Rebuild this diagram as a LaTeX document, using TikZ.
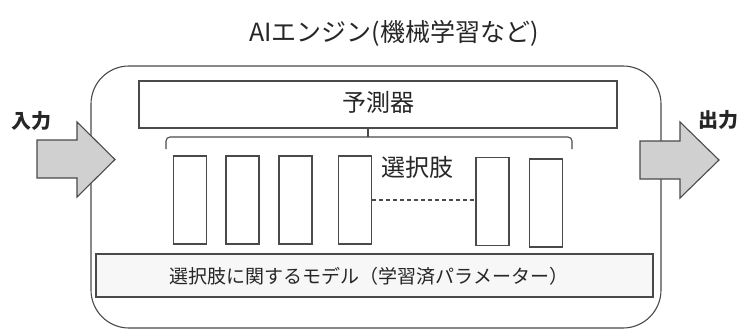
\documentclass[tikz,border=0pt]{standalone}
\usepackage{fontspec}
\setmainfont{Noto Sans CJK JP}
\usetikzlibrary{positioning}
\definecolor{lc}{HTML}{4A4A4A}
\definecolor{arrfill}{HTML}{D0D0D0}
\definecolor{modfill}{HTML}{F7F7F7}
\tikzset{
  box/.style={draw=lc, line width=1.1pt, inner sep=0pt},
  optbox/.style={box, fill=white, minimum width=33pt, minimum height=88pt},
  bigarrow/.style={draw=lc, line width=1.1pt, fill=arrfill, line join=miter},
  lbl/.style={inner sep=0pt, text=black!85}
}
\begin{document}
\begin{tikzpicture}[x=1pt,y=-1pt]
\useasboundingbox (0,0) rectangle (741,329);
% title
\node[lbl, font=\fontsize{25}{25}\selectfont] (title) at (394,33) {AIエンジン(機械学習など)};
% outer rounded box
\node[box, rounded corners=38pt, minimum width=570pt, minimum height=262pt] (outer) at (376,197) {};
% predictor
\node[box, minimum width=478pt, minimum height=47pt] (pred) at (378,104.5) {};
\node[lbl, font=\fontsize{24}{24}\selectfont] (predt) at (378,102) {予測器};
% options
\node[optbox] (o1) at (190,200) {};
\node[optbox] (o2) at (242.5,200) {};
\node[optbox] (o3) at (295.5,200) {};
\node[optbox] (o4) at (355,200) {};
\node[optbox] (o5) at (492.5,201.5) {};
\node[optbox] (o6) at (546,203) {};
\draw[lc, line width=1.2pt, dash pattern=on 4pt off 3pt] (o4.east) -- (o4.east -| o5.west);
\node[lbl, font=\fontsize{24}{24}\selectfont] (opt) at (417,167) {選択肢};
% brace
\coordinate (bl) at (166,149);
\coordinate (br) at (572,149);
\coordinate (bm) at (368,137);
\draw[lc, line width=1.1pt, rounded corners=4pt] (bl) -- (166,137) -- (572,137) -- (br);
\draw[lc, line width=1.1pt] (bm) -- (pred.south -| bm);
% model box
\node[box, fill=modfill, minimum width=557pt, minimum height=43pt] (model) at (374.5,275.5) {};
\node[lbl, font=\fontsize{19}{19}\selectfont] (modelt) at (369,276) {選択肢に関するモデル（学習済パラメーター）};
% arrows
\draw[bigarrow] (37,140) -- (77,140) -- (77,122) -- (115,159.5) -- (77,197) -- (77,178) -- (37,178) -- cycle;
\draw[bigarrow] (640,141) -- (680,141) -- (680,122) -- (719,160) -- (680,198) -- (680,179) -- (640,179) -- cycle;
\node[lbl, font=\fontsize{20}{20}\selectfont\bfseries] (in) at (32,121) {入力};
\node[lbl, font=\fontsize{20}{20}\selectfont\bfseries] (out) at (718,120) {出力};
\end{tikzpicture}
\end{document}
